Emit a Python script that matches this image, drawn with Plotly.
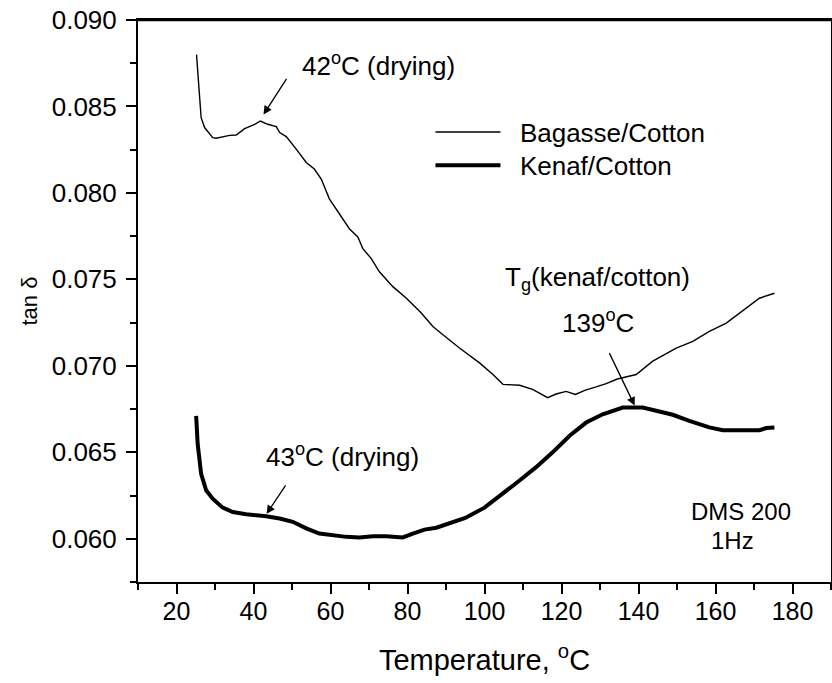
import plotly.graph_objects as go

# ---- data ----
bagasse_temp = [25.2, 26.4, 27.3, 29.4, 30.3, 32.0, 33.8, 35.5, 37.7, 40.3, 41.8, 43.7, 45.9,
                46.8, 48.5, 51.1, 53.7, 55.8, 57.6, 59.7, 62.3, 64.9, 67.1, 68.4, 70.6, 72.7,
                76.2, 79.7, 83.4, 86.6, 89.2, 93.5, 98.7, 102.2, 104.8, 109.1, 112.5, 116.4,
                118.6, 121.2, 123.6, 126.2, 129.0, 131.6, 134.5, 139.4, 143.7, 149.8, 154.1,
                158.4, 162.8, 168.0, 171.4, 175.3]
bagasse_tan = [0.0880, 0.08435, 0.08378, 0.0832, 0.08316, 0.08326, 0.08333, 0.08335, 0.08372,
               0.08397, 0.08416, 0.08397, 0.08383, 0.08349, 0.08326, 0.08253, 0.08176, 0.08138,
               0.0808, 0.07966, 0.07879, 0.07793, 0.07745, 0.07678, 0.0762, 0.07544, 0.07458,
               0.07391, 0.0731, 0.07228, 0.0718, 0.07103, 0.07017, 0.0695, 0.06893, 0.06888,
               0.06864, 0.06816, 0.06837, 0.06852, 0.06835, 0.0686, 0.06878, 0.06897, 0.06924,
               0.0695, 0.07027, 0.07103, 0.07142, 0.07199, 0.07247, 0.07333, 0.07391, 0.0742]

kenaf_temp = [25.1, 25.5, 26.4, 27.7, 29.4, 32.0, 34.6, 38.1, 43.3, 46.8, 50.2, 53.7, 57.1,
              60.6, 64.1, 67.5, 71.0, 74.5, 78.8, 81.4, 84.4, 87.5, 90.5, 95.0, 100.0, 104.3,
              109.1, 113.4, 117.7, 122.1, 126.4, 130.7, 134.2, 135.9, 141.1, 144.6, 148.9,
              153.2, 158.4, 161.9, 171.4, 173.2, 175.3]
kenaf_tan = [0.06711, 0.06548, 0.06375, 0.0628, 0.06232, 0.0618, 0.06155, 0.06142, 0.0613,
             0.06117, 0.06098, 0.0606, 0.0603, 0.0602, 0.06011, 0.06008, 0.06015, 0.06015,
             0.06008, 0.0603, 0.06053, 0.06064, 0.06087, 0.0612, 0.0618, 0.06251, 0.06337,
             0.06414, 0.065, 0.06596, 0.06672, 0.0672, 0.06743, 0.06759, 0.06759, 0.0674,
             0.06717, 0.06682, 0.06644, 0.06628, 0.06628, 0.0664, 0.06644]

x_range = [10, 190]
y_range = [0.0575, 0.090]

FONT = "Liberation Sans, Arial, sans-serif"
NB = "\u00a0\u00a0"

fig = go.Figure()
fig.add_trace(go.Scatter(x=bagasse_temp, y=bagasse_tan, mode="lines", name=NB + "Bagasse/Cotton",
                         line=dict(color="black", width=1.4), legend="legend"))
fig.add_trace(go.Scatter(x=kenaf_temp, y=kenaf_tan, mode="lines", name=NB + "Kenaf/Cotton",
                         line=dict(color="black", width=4), legend="legend2"))

axis_common = dict(showgrid=False, zeroline=False, showline=True, linecolor="black",
                   linewidth=2, tickcolor="black", tickwidth=2, automargin=False)

leg_common = dict(xanchor="left", yanchor="middle", bgcolor="rgba(0,0,0,0)",
                  font=dict(size=26), itemwidth=65, borderwidth=0)

fig.update_layout(
    template="none",
    width=832, height=683,
    margin=dict(l=138, r=1, t=20, b=101, autoexpand=False),
    paper_bgcolor="white", plot_bgcolor="white",
    font=dict(family=FONT, color="black", size=25),
    xaxis=dict(range=x_range, tick0=0, dtick=20, ticks="outside", ticklen=10, mirror=True,
               minor=dict(dtick=10, tick0=0, ticks="outside", ticklen=6, tickwidth=2, tickcolor="black"),
               tickfont=dict(size=25), ticklabelstandoff=-4, ticklabeloverflow="allow",
               title=dict(text="Temperature, <sup>o</sup>C", font=dict(size=29), standoff=26),
               **axis_common),
    yaxis=dict(range=y_range, tick0=0, dtick=0.005, tickformat=".3f", ticks="outside", ticklen=10,
               mirror=True,
               minor=dict(dtick=0.0025, tick0=0, ticks="outside", ticklen=6, tickwidth=2, tickcolor="black"),
               tickfont=dict(size=26), ticklabelstandoff=4, ticklabeloverflow="allow",
               title=dict(text="tan δ", font=dict(size=22), standoff=8),
               **axis_common),
    xaxis2=dict(range=x_range, overlaying="x", side="top", anchor="y", tick0=0, dtick=20,
                ticks="inside", ticklen=10, showticklabels=False,
                minor=dict(dtick=10, tick0=0, ticks="inside", ticklen=6, tickwidth=2, tickcolor="black"),
                **axis_common),
    yaxis2=dict(range=y_range, overlaying="y", side="right", anchor="x", tick0=0, dtick=0.005,
                ticks="inside", ticklen=10, showticklabels=False,
                minor=dict(dtick=0.0025, tick0=0, ticks="inside", ticklen=6, tickwidth=2, tickcolor="black"),
                **axis_common),
    showlegend=True,
    legend=dict(x=0.422, y=0.8005, **leg_common),
    legend2=dict(x=0.422, y=0.7415, **leg_common),
)

# top frame edge (decoration)
fig.add_shape(type="line", xref="paper", yref="paper", x0=0, x1=1, y0=1, y1=1,
              line=dict(color="black", width=2.5), layer="above")

txt = dict(showarrow=False, xref="x", yref="y", font=dict(size=26))
fig.add_annotation(text="42<sup>o</sup>C (drying)", x=52.0, y=0.08741, xanchor="left", yanchor="middle", **txt)
fig.add_annotation(text="T<sub>g</sub>(kenaf/cotton)", x=104.7, y=0.07506, xanchor="left", yanchor="middle", **txt)
fig.add_annotation(text="139<sup>o</sup>C", x=129.4, y=0.07259, xanchor="center", yanchor="middle", **txt)
fig.add_annotation(text="43<sup>o</sup>C (drying)", x=42.85, y=0.0648, xanchor="left", yanchor="middle", **txt)
fig.add_annotation(text="DMS 200", x=166.5, y=0.06155, xanchor="center", yanchor="middle",
                   showarrow=False, xref="x", yref="y", font=dict(size=24))
fig.add_annotation(text="1Hz", x=164.4, y=0.05989, xanchor="center", yanchor="middle",
                   showarrow=False, xref="x", yref="y", font=dict(size=24))

arr = dict(text="", showarrow=True, arrowhead=2, arrowsize=1.3, arrowwidth=1.3,
           arrowcolor="black", xref="x", yref="y", standoff=0)
fig.add_annotation(x=42.6, y=0.08454, ax=24, ay=-37, **arr)
fig.add_annotation(x=43.4, y=0.06144, ax=20, ay=-30, **arr)
fig.add_annotation(x=139.0, y=0.0677, ax=-26, ay=-54, **arr)

fig.write_html("out.html", config={"displayModeBar": False},
               post_script="document.body.style.margin='0';")
